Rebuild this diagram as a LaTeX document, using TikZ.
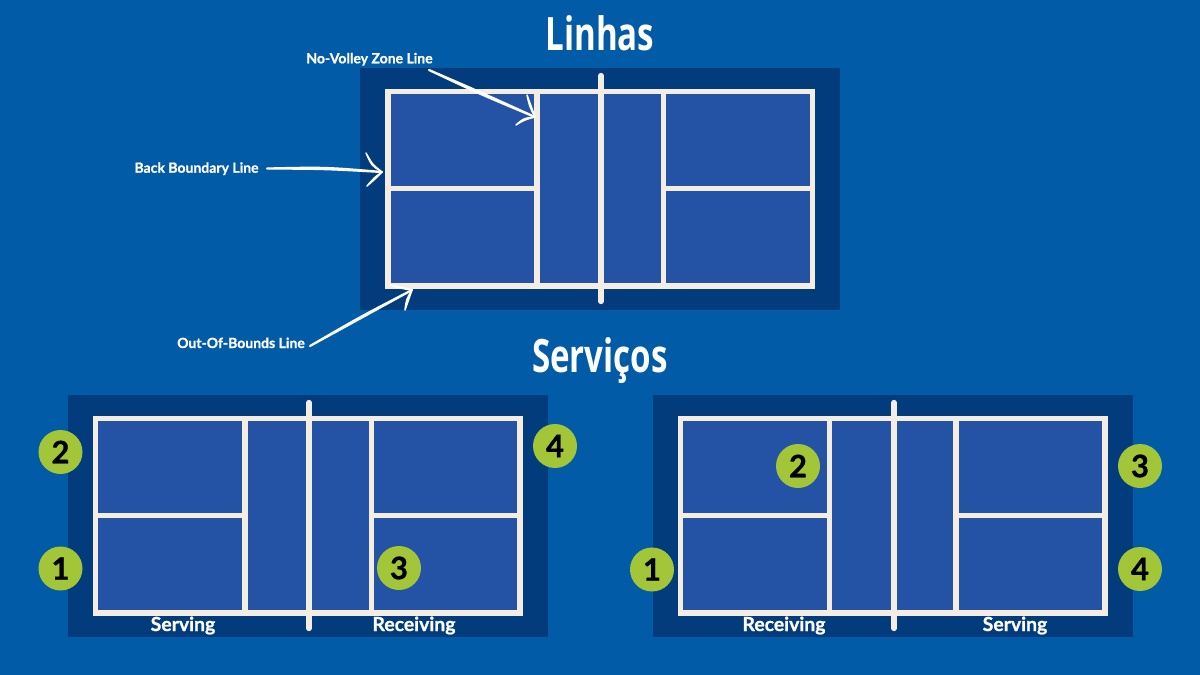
\documentclass[tikz,border=0pt]{standalone}
\usepackage{fontspec}
\usetikzlibrary{calc}
\newfontfamily\titlefont[FakeStretch=0.72]{Open Sans}
\newfontfamily\labelfont[FakeBold=0.9]{Lato}
\definecolor{bgblue}{HTML}{015BA6}
\definecolor{darkblue}{HTML}{023C7C}
\definecolor{courtblue}{HTML}{2452A4}
\definecolor{linecream}{HTML}{F3EDE4}
\definecolor{ballgreen}{HTML}{A3C639}
\tikzset{
  surround/.style={fill=darkblue,draw=none,inner sep=0pt,minimum width=480pt,minimum height=242pt,rectangle},
  courtline/.style={draw=linecream,line width=5.5pt},
  netline/.style={draw=linecream,line width=5.3pt,line cap=round},
  titletext/.style={text=white,font=\titlefont\bfseries\fontsize{46}{46}\selectfont,inner sep=0pt,anchor=base},
  smalllabel/.style={text=white,font=\labelfont\bfseries\fontsize{14}{15}\selectfont,inner sep=0pt,anchor=base},
  sidelabel/.style={text=white,font=\labelfont\bfseries\fontsize{19.4}{20}\selectfont,inner sep=0pt,anchor=base},
  player/.style={circle,fill=ballgreen,minimum size=44pt,inner sep=0pt,text=black,font=\labelfont\bfseries\fontsize{31}{31}\selectfont},
  stemink/.style={draw=white,fill=white,line width=2.2pt,line join=round,line cap=round},
  headink/.style={draw=white,fill=white,line width=1.5pt,line join=round,line cap=round},
}
% tapered stroke from #3 to #4, bowed through control #5, half-width #2, style #1
\newcommand{\handstroke}[5]{%
  \draw[#1] (#3) .. controls ($(#5)!#2pt!90:(#4)$) .. (#4)
     .. controls ($(#5)!#2pt!-90:(#4)$) .. (#3) -- cycle;
}
% #1 prefix, #2 court centre x, #3 court centre y, #4 net x
\newcommand{\pbcourt}[4]{%
  \node[surround] (#1bg) at (#2,#3+0.7) {};
  \node[rectangle,fill=courtblue,courtline,inner sep=0pt,minimum width=424.5pt,minimum height=194.5pt] (#1court) at (#2,#3) {};
  \coordinate (#1kl) at (#2-62.8,#3);
  \coordinate (#1kr) at (#2+63.6,#3);
  \draw[courtline] (#1kl |- #1court.north) -- (#1kl |- #1court.south);
  \draw[courtline] (#1kr |- #1court.north) -- (#1kr |- #1court.south);
  \draw[courtline] (#1court.west) -- (#1kl);
  \draw[courtline] (#1kr) -- (#1court.east);
  \coordinate (#1nt) at (#4,#3-113);
  \coordinate (#1nb) at (#4,#3+113);
  \draw[netline] (#1nt) -- (#1nb);
}
\begin{document}
\begin{tikzpicture}[x=1pt,y=-1pt]
\useasboundingbox[fill=bgblue] (0,0) rectangle (1200,675);
\pbcourt{a}{600}{188.5}{601}
\pbcourt{b}{307.8}{515.5}{309}
\pbcourt{c}{892.5}{515.5}{894}

\node[titletext] (t1) at (600,50) {Linhas};
\node[titletext] (t2) at (600,372) {Serviços};

\node[smalllabel] (nv) at (369.5,63.3) {No-Volley Zone Line};
\node[smalllabel] (bb) at (196.5,172.7) {Back Boundary Line};
\node[smalllabel] (ob) at (241,348) {Out-Of-Bounds Line};

\coordinate (nvtip) at (535,117);
\coordinate (nvh1) at (527,95);
\coordinate (nvh2) at (516,125);
\coordinate (nvs) at (429,70);
\coordinate (nvc) at (480,93);
\handstroke{stemink}{0.9}{nvs}{nvtip}{nvc}
\coordinate (nvd1) at (530,106);
\handstroke{headink}{0.6}{nvh1}{nvtip}{nvd1}
\coordinate (nvd2) at (524,119);
\handstroke{headink}{0.9}{nvh2}{nvtip}{nvd2}

\coordinate (bbtip) at (382,172);
\coordinate (bbh1) at (366,153);
\coordinate (bbh2) at (367,186);
\coordinate (bbs) at (267,168.5);
\coordinate (bbc) at (325,168);
\handstroke{stemink}{0.8}{bbs}{bbtip}{bbc}
\coordinate (bbd1) at (372,165);
\handstroke{headink}{0.7}{bbh1}{bbtip}{bbd1}
\coordinate (bbd2) at (375,178);
\handstroke{headink}{0.8}{bbh2}{bbtip}{bbd2}

\coordinate (obtip) at (412,290);
\coordinate (obh1) at (390,285);
\coordinate (obh2) at (405,310);
\coordinate (obs) at (310,346);
\coordinate (obc) at (360,318);
\handstroke{stemink}{0.9}{obs}{obtip}{obc}
\coordinate (obd1) at (402,288);
\handstroke{headink}{0.6}{obh1}{obtip}{obd1}
\coordinate (obd2) at (407,300);
\handstroke{headink}{0.8}{obh2}{obtip}{obd2}

\node[sidelabel] (s1) at (183,631) {Serving};
\node[sidelabel] (r1) at (414,631) {Receiving};
\node[sidelabel] (r2) at (784,631) {Receiving};
\node[sidelabel] (s2) at (1015,631) {Serving};

\node[player] (p2a) at (60.5,452) {2};
\node[player] (p1a) at (60.5,568.5) {1};
\node[player] (p4a) at (555,446) {4};
\node[player] (p3a) at (399,568) {3};
\node[player] (p2b) at (798,466) {2};
\node[player] (p1b) at (652,569.5) {1};
\node[player] (p3b) at (1140,466) {3};
\node[player] (p4b) at (1140,569) {4};
\end{tikzpicture}
\end{document}
